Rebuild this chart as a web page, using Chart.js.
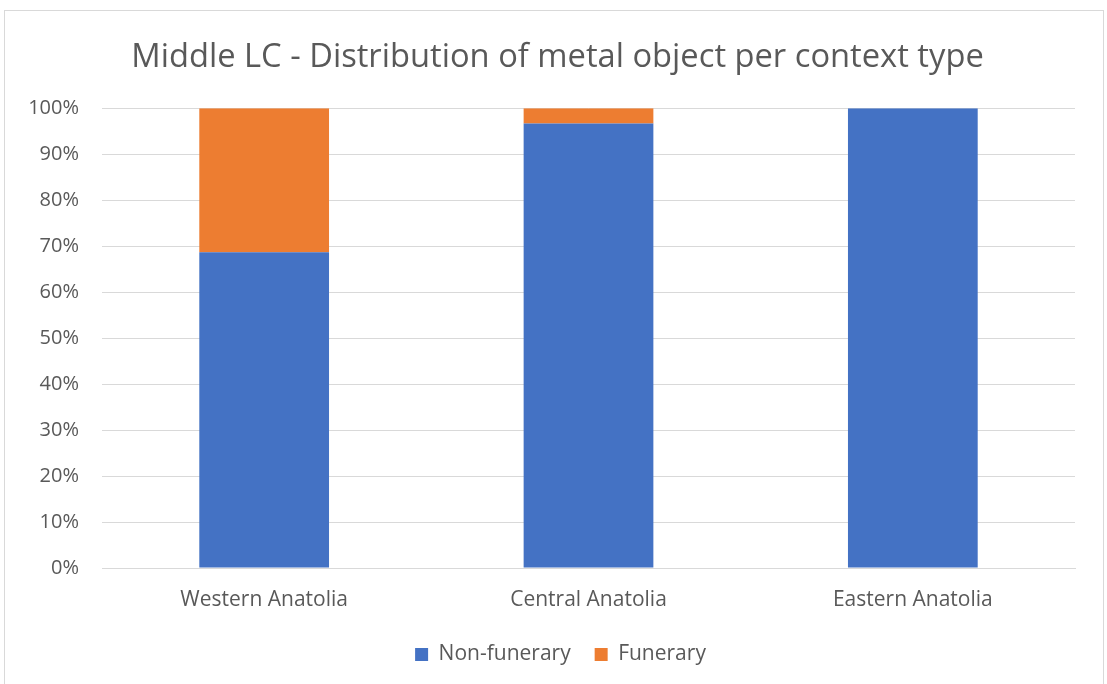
<!DOCTYPE html>
<html lang="en">
<head>
    <meta charset="UTF-8">
    <title>Middle LC - metal objects</title>
    <script src="https://cdn.jsdelivr.net/npm/chart.js"></script>
    <style>
        body { margin: 0; background: #fff; }
    </style>
</head>
<body>
    <div style="width: 1107px; height: 684px;">
        <canvas id="grafico"></canvas>
    </div>

    <script>
        const regioes = ["Western Anatolia", "Central Anatolia", "Eastern Anatolia"]
        const naoFunerario = [68.7, 96.7, 100]
        const funerario = [31.3, 3.3, 0]
        const ticksY = [0, 10, 20, 30, 40, 50, 60, 70, 80, 90, 100]

        const fonte = "'Open Sans', 'Noto Sans', sans-serif"
        const cinza = '#595959'

        // moldura cinza clara em volta do gráfico; título e legenda um pouco à direita
        const moldura = {
            id: 'moldura',
            afterLayout(chart) {
                chart.legend.left += 13
                chart.legend.right += 13
                chart.titleBlock.left += 10
                chart.titleBlock.right += 10
            },
            beforeDraw(chart) {
                const c = chart.ctx
                c.save()
                c.fillStyle = '#fff'
                c.fillRect(0, 0, chart.width, chart.height)
                c.strokeStyle = '#d9d9d9'
                c.lineWidth = 1
                c.strokeRect(4.5, 10.5, 1099, 690)
                c.restore()
            }
        }

        const ctx = document.getElementById('grafico')

        new Chart(ctx, {
            type: 'bar',
            data: {
                labels: regioes,
                datasets: [{
                    label: 'Non-funerary',
                    data: naoFunerario,
                    backgroundColor: '#4472C4'
                }, {
                    label: 'Funerary',
                    data: funerario,
                    backgroundColor: '#ED7D31'
                }]
            },
            plugins: [moldura],
            options: {
                responsive: true,
                maintainAspectRatio: false,
                animation: false,
                layout: { padding: { left: 20, right: 32, top: 0, bottom: 9 } },
                datasets: { bar: { categoryPercentage: 1, barPercentage: 0.4 } },
                plugins: {
                    title: {
                        display: true,
                        text: 'Middle LC - Distribution of metal object per context type',
                        color: cinza,
                        font: { family: fonte, size: 32.7, weight: 'normal' },
                        padding: { top: 38, bottom: 31 }
                    },
                    legend: {
                        position: 'bottom',
                        labels: {
                            color: cinza,
                            font: { family: fonte, size: 21 },
                            boxWidth: 13,
                            boxHeight: 13,
                            padding: 24
                        }
                    },
                    tooltip: { enabled: false }
                },
                scales: {
                    x: {
                        stacked: true,
                        grid: { display: false },
                        border: { color: '#d9d9d9' },
                        ticks: { color: cinza, font: { family: fonte, size: 21 }, padding: 11 },
                        afterFit(s) { s.height = 52 }
                    },
                    y: {
                        stacked: true,
                        min: 0,
                        max: 100,
                        afterBuildTicks(s) { s.ticks = ticksY.map(v => ({ value: v })) },
                        grid: { color: '#d9d9d9', drawTicks: false },
                        border: { display: false },
                        ticks: {
                            color: cinza,
                            font: { family: fonte, size: 20 },
                            padding: 23,
                            callback: v => v + '%'
                        },
                        afterFit(s) { s.width = 82 }
                    }
                }
            }
        })
    </script>
</body>
</html>
